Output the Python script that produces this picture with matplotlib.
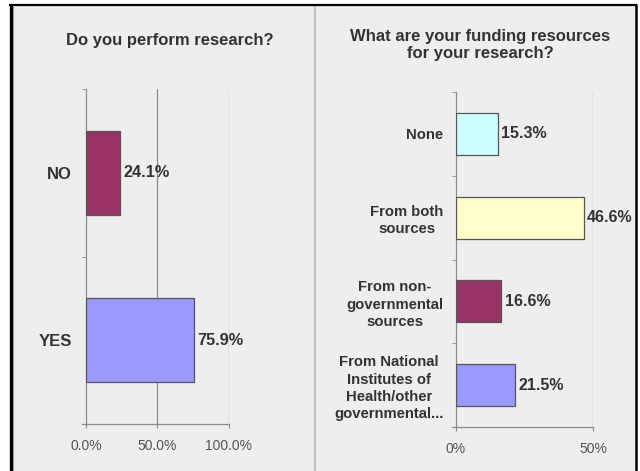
import matplotlib
matplotlib.use("Agg")
import matplotlib.pyplot as plt
from matplotlib.patches import Rectangle
from matplotlib.lines import Line2D
import numpy as np

plt.rcParams['font.family'] = ['Liberation Sans', 'DejaVu Sans']

# Data
left_title = "Do you perform research?"
left_cats = ["NO", "YES"]
left_vals = [24.1, 75.9]
left_colors = ["#993366", "#9999ff"]
left_ticks = [0, 50, 100]
left_ticklabels = ["0.0%", "50.0%", "100.0%"]

right_title = "What are your funding resources\nfor your research?"
right_cats = ["None", "From both\nsources", "From non-\ngovernmental\nsources",
              "From National\nInstitutes of\nHealth/other\ngovernmental..."]
right_vals = [15.3, 46.6, 16.6, 21.5]
right_colors = ["#ccffff", "#ffffcc", "#993366", "#9999ff"]
right_ticks = [0, 50]
right_ticklabels = ["0%", "50%"]

W, H = 640, 471
fig = plt.figure(figsize=(W / 100, H / 100), dpi=100, facecolor="white")

BG = "#eeeeee"
TXT = "#333333"
GRID = "#8c8c8c"

# panel background and border
fig.patches.append(Rectangle((9 / W, 0), (637 - 9) / W, (H - 4) / H, transform=fig.transFigure,
                             facecolor=BG, edgecolor="none", zorder=-10))
def fline(x0, y0, x1, y1, color, lw):
    fig.add_artist(Line2D([x0 / W, x1 / W], [1 - y0 / H, 1 - y1 / H], transform=fig.transFigure,
                          color=color, lw=lw, solid_capstyle="butt"))
fline(10.5, 4, 10.5, H, "black", 2.3)
fline(12.8, 6, 12.8, H, "#9a9a9a", 0.8)
fline(9, 5, 637, 5, "black", 1.6)
fline(635.8, 4, 635.8, H, "black", 1.8)
fline(314.5, 6, 314.5, H, "#c4c4c4", 1.6)


def axes_px(l, t, r, b):
    return fig.add_axes([l / W, 1 - b / H, (r - l) / W, (b - t) / H])


def setup(ax, cats, vals, colors, ticks, ticklabels, xmax, fmt, catsize, valsize):
    n = len(cats)
    ax.set_facecolor(BG)
    y = np.arange(n)
    ax.barh(y, vals, height=0.5, color=colors, edgecolor="#555555", linewidth=0.9, zorder=3)
    ax.set_xlim(0, xmax)
    ax.set_ylim(n - 0.5, -0.5)
    for t in ticks[1:]:
        ax.axvline(t, color=GRID, lw=0.9, zorder=1)
    for s in ["top", "right"]:
        ax.spines[s].set_visible(False)
    for s in ["left", "bottom"]:
        ax.spines[s].set_color(GRID)
        ax.spines[s].set_linewidth(0.9)
    ax.set_xticks(ticks)
    ax.set_xticklabels(ticklabels, color="#555555", fontsize=10)
    ax.tick_params(axis="x", length=3, color=GRID, pad=8)
    ax.set_yticks(y)
    ax.set_yticklabels(cats, fontsize=catsize, fontweight="bold", color=TXT, multialignment="center",
                       linespacing=1.3)
    ax.set_yticks(np.arange(n + 1) - 0.5, minor=True)
    ax.tick_params(axis="y", which="major", length=0)
    ax.tick_params(axis="y", which="minor", length=3, color=GRID)
    ax.spines["bottom"].set_bounds(-0.03 * xmax, xmax)
    for yi, v in zip(y, vals):
        ax.text(v + xmax * 0.025, yi, fmt % v, va="center", ha="left", fontsize=valsize,
                fontweight="bold", color=TXT, clip_on=False)
    return ax


axL = axes_px(86, 89, 228.5, 424)
setup(axL, left_cats, left_vals, left_colors, left_ticks, left_ticklabels, 100, "%.1f%%", 12, 11.7)
axL.tick_params(axis="y", which="major", pad=10)

axR = axes_px(456, 92, 593, 427)
setup(axR, right_cats, right_vals, right_colors, right_ticks, right_ticklabels, 50, "%.1f%%", 10.7, 11.5)
axR.tick_params(axis="y", which="major", pad=9)

fig.text(170 / W, 1 - 41 / H, left_title, ha="center", va="center", fontsize=12,
         fontweight="bold", color=TXT)
fig.text(480 / W, 1 - 45 / H, right_title, ha="center", va="center", fontsize=12,
         fontweight="bold", color=TXT, linespacing=1.2)

fig.savefig("out.png", dpi=100, facecolor="white")
